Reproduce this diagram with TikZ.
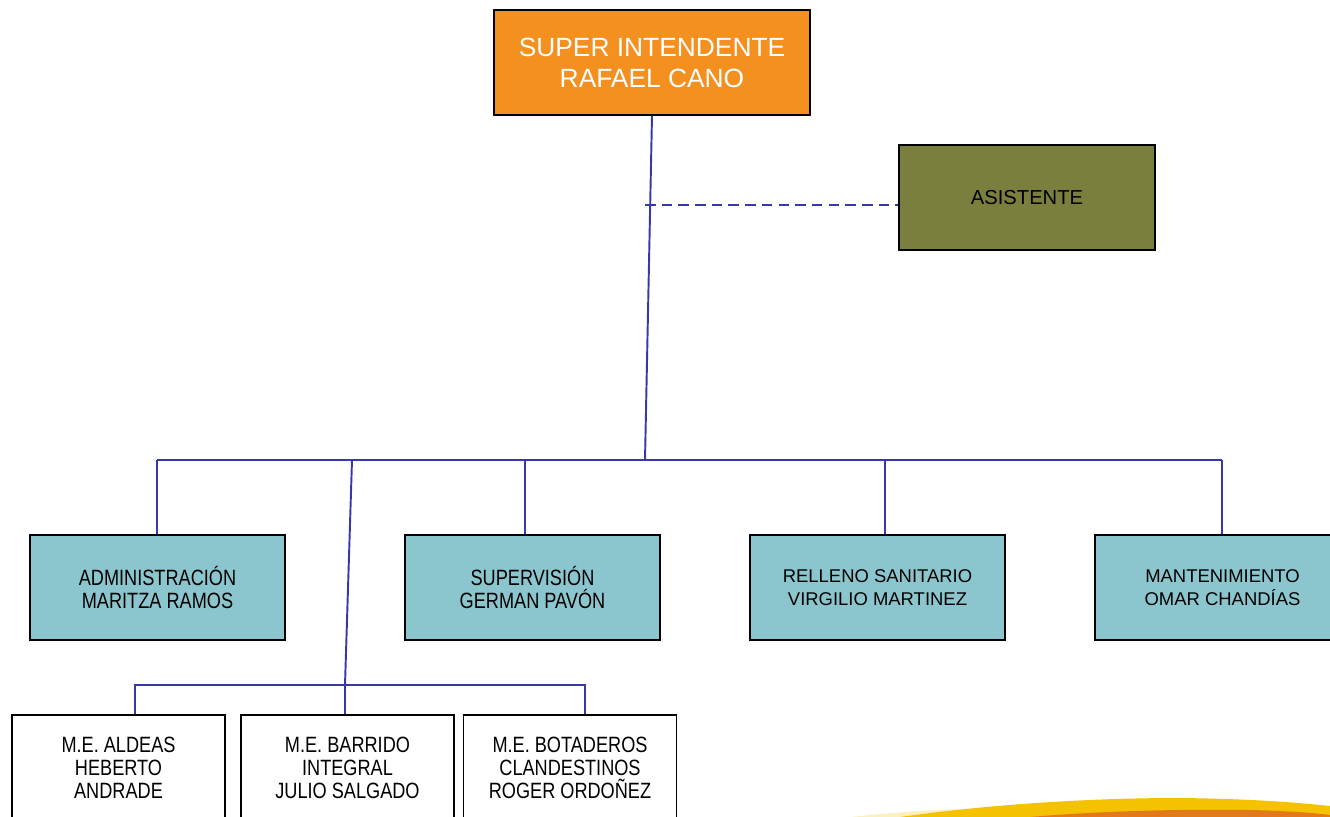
\documentclass[tikz,border=0pt]{standalone}
\usepackage{fontspec}
\setmainfont{Liberation Sans}
\newfontfamily\narrowfont[FakeStretch=0.82]{Liberation Sans}
\usepackage{tikz}
\usepackage{xcolor}
\definecolor{naranja}{HTML}{F39020}
\definecolor{oliva}{HTML}{7A7F3D}
\definecolor{celeste}{HTML}{8BC6CE}
\definecolor{azul}{HTML}{3838A8}
\definecolor{amarillo}{HTML}{F5C200}
\definecolor{naranjo}{HTML}{E27A1C}

\begin{document}
\begin{tikzpicture}[x=0.02cm, y=-0.02cm,
    caja/.style={shape=rectangle, draw=black, line width=1.1pt, align=center, inner sep=0pt},
    jefe/.style={caja, fill=naranja, text=white, minimum width=316*0.02cm, minimum height=105*0.02cm,
                 font=\fontsize{15}{17.6}\selectfont},
    asist/.style={caja, fill=oliva, minimum width=256*0.02cm, minimum height=105*0.02cm,
                  font=\fontsize{11.5}{13}\selectfont},
    area/.style={caja, fill=celeste, minimum width=255*0.02cm, minimum height=105*0.02cm,
                 font=\fontsize{10.5}{13}\selectfont},
    narrow/.style={font=\narrowfont\fontsize{12.6}{13}\selectfont},
    unidad/.style={caja, fill=white, minimum width=213*0.02cm, minimum height=106*0.02cm, narrow},
    linea/.style={draw=azul, line width=1.1pt}]
    \useasboundingbox (0,0) rectangle (1330,817);
    \clip (0,0) rectangle (1330,817);

    % boxes
    \node[jefe] (super) at (652,62.5) {SUPER INTENDENTE\\RAFAEL CANO};
    \node[asist] (asis) at (1027,197.5) {ASISTENTE};

    \node[area, narrow] (admin) at (157.5,587.5) {ADMINISTRACIÓN\\MARITZA RAMOS};
    \node[area, narrow] (superv) at (532.5,587.5) {SUPERVISIÓN\\GERMAN PAVÓN};
    \node[area] (relleno) at (877.5,587.5) {RELLENO SANITARIO\\VIRGILIO MARTINEZ};
    \node[area] (mant) at (1222.5,587.5) {MANTENIMIENTO\\OMAR CHANDÍAS};

    \node[unidad] (aldeas) at (118.5,768) {M.E. ALDEAS\\HEBERTO\\ANDRADE};
    \node[unidad] (barrido) at (347.5,768) {M.E. BARRIDO\\INTEGRAL\\JULIO SALGADO};
    \node[unidad] (botad) at (570,768) {M.E. BOTADEROS\\CLANDESTINOS\\ROGER ORDOÑEZ};

    % connectors
    \coordinate (c0) at (645,460);
    \coordinate (c1) at (645,205);
    \coordinate (b1) at (157,460);
    \coordinate (b2) at (352,460);
    \coordinate (b3) at (525,460);
    \coordinate (b4) at (885,460);
    \coordinate (b5) at (1222,460);
    \coordinate (m0) at (345,685);
    \coordinate (m1) at (135,685);
    \coordinate (m3) at (585,685);

    \draw[linea] (super.south) -- (c0);
    \draw[linea, dashed, dash pattern=on 6pt off 3.5pt] (c1) -- (c1 -| asis.west);
    \draw[linea] (b1) -- (b5);
    \draw[linea] (b1) -- (b1 |- admin.north);
    \draw[linea] (b3) -- (b3 |- superv.north);
    \draw[linea] (b4) -- (b4 |- relleno.north);
    \draw[linea] (b5) -- (b5 |- mant.north);
    \draw[linea] (b2) -- (m0) -- (m0 |- barrido.north);
    \draw[linea] (m1 |- aldeas.north) -- (m1) -- (m3) -- (m3 |- botad.north);

    % swoosh
    \fill[amarillo!25] (850,817) .. controls (900,812) and (930,810) .. (960,809) -- (960,817) -- cycle;
    \fill[amarillo] (900,817) .. controls (1000,803) and (1100,798) .. (1180,798)
        .. controls (1260,799) and (1300,803) .. (1330,806) -- (1330,817) -- cycle;
    \fill[naranjo] (1030,817) .. controls (1100,811) and (1180,809) .. (1250,810)
        .. controls (1290,811) and (1315,813) .. (1330,815) -- (1330,817) -- cycle;
\end{tikzpicture}
\end{document}
